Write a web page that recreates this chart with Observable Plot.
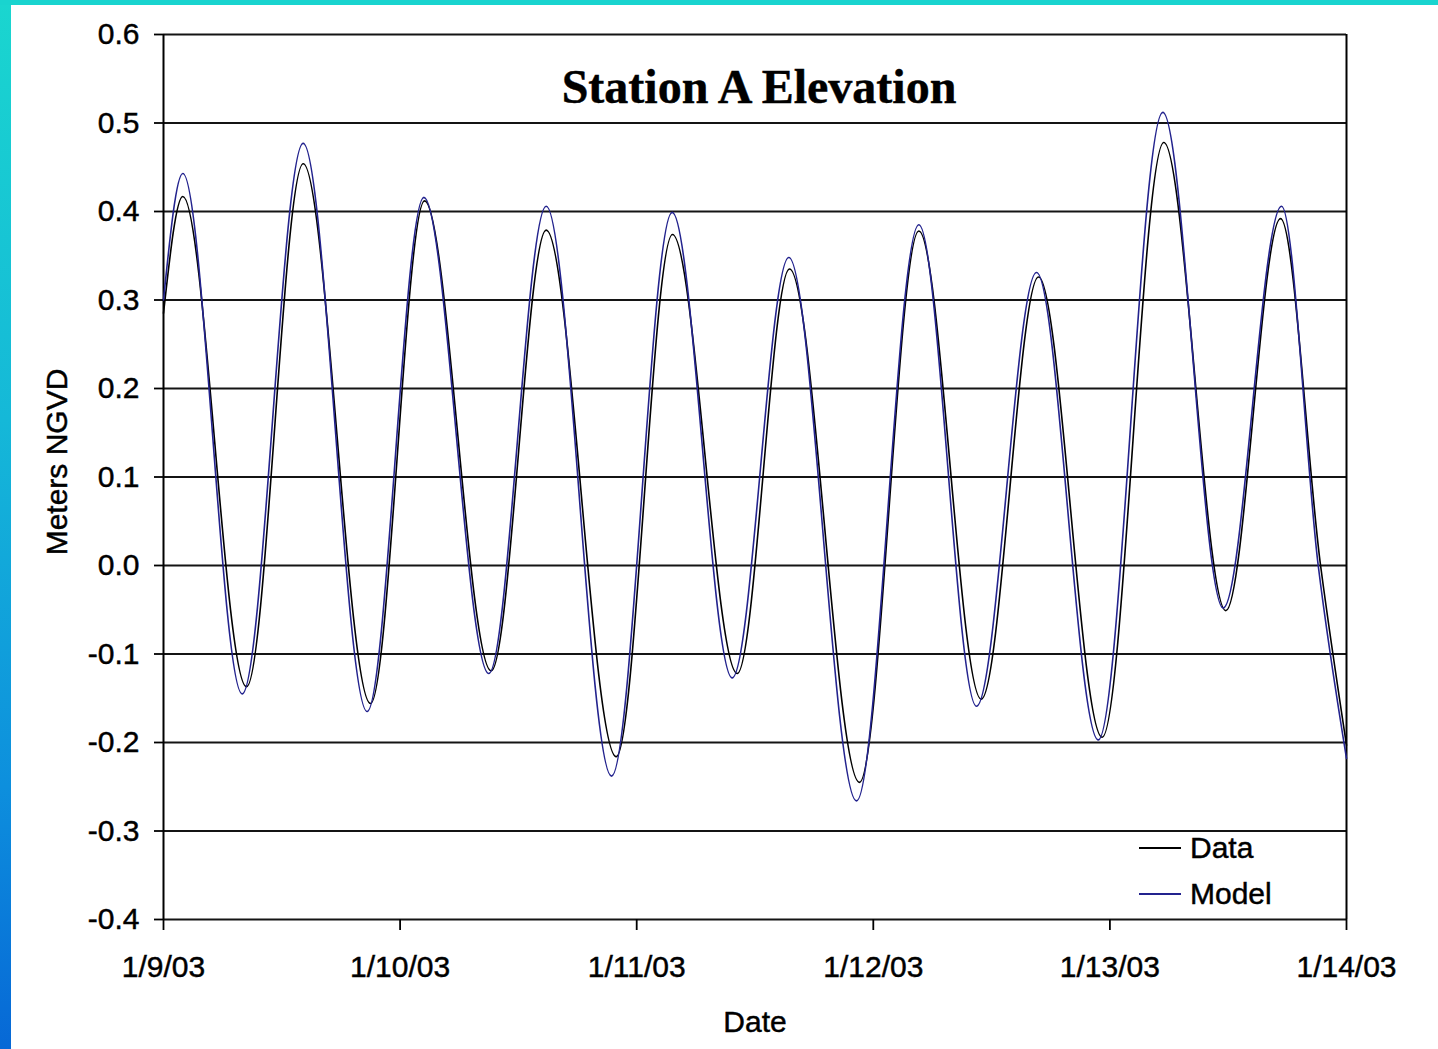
<!DOCTYPE html>
<html>
<head>
<meta charset="utf-8">
<script src="https://cdn.jsdelivr.net/npm/d3@7"></script>
<script src="https://cdn.jsdelivr.net/npm/@observablehq/plot@0.6"></script>
<style>
  html, body { margin: 0; padding: 0; width: 1438px; height: 1049px; overflow: hidden; background: #fff; }
  #page { position: relative; width: 1438px; height: 1049px; background: #fff; }
  #edge-left { position: absolute; left: 0; top: 0; width: 11px; height: 1049px;
    background: linear-gradient(#1ad6cf 0%, #15b8d8 40%, #0d8fdd 75%, #0768d6 100%); }
  #edge-top { position: absolute; left: 0; top: 0; width: 1438px; height: 5px; background: #19d4cf; }
  #chart { position: absolute; left: 0; top: 0; }
  #chart svg text { stroke: #000; stroke-width: 0.45px; }
  #legend { position: absolute; left: 1128px; top: 833px; width: 158px; height: 84px; background: #fff;
    font: 30px "Liberation Sans", Arial, sans-serif; color: #000; -webkit-text-stroke: 0.45px #000; }
  .entry { position: absolute; left: 11px; height: 34px; display: flex; align-items: center; }
  .swatch { width: 42px; height: 2px; margin-right: 9px; }
</style>
</head>
<body>
<div id="page">
  <div id="chart"></div>
  <div id="edge-left"></div>
  <div id="edge-top"></div>
  <div id="legend">
    <div class="entry" style="top:-2px"><span class="swatch" style="background:#000"></span><span>Data</span></div>
    <div class="entry" style="top:44px"><span class="swatch" style="background:#23238e"></span><span>Model</span></div>
  </div>
</div>
<script>
// Water level at Station A, 9–14 Jan 2003: turning points of each tide (hours after 1/9/03 00:00, metres NGVD)
const dataHours  = [0, 1.96, 8.42, 14.17, 21.0, 26.48, 33.24, 38.82, 45.92, 51.63, 58.2, 63.5, 70.6, 76.62, 82.95, 88.76, 95.22, 101.47, 107.76, 113.31, 117.37, 120];
const dataLevel  = [0.285, 0.417, -0.137, 0.454, -0.156, 0.412, -0.119, 0.379, -0.216, 0.374, -0.122, 0.335, -0.245, 0.378, -0.151, 0.326, -0.194, 0.478, -0.051, 0.392, 0.0, -0.203];

const modelHours = [0, 1.96, 7.98, 14.17, 20.66, 26.41, 33.0, 38.82, 45.45, 51.6, 57.69, 63.43, 70.3, 76.62, 82.47, 88.56, 94.82, 101.37, 107.5, 113.41, 117.13, 120];
const modelLevel = [0.300, 0.443, -0.145, 0.477, -0.165, 0.416, -0.122, 0.406, -0.238, 0.399, -0.127, 0.348, -0.266, 0.385, -0.159, 0.331, -0.197, 0.512, -0.048, 0.406, 0.0, -0.218];

const yTicks = [-0.4, -0.3, -0.2, -0.1, 0.0, 0.1, 0.2, 0.3, 0.4, 0.5, 0.6];
const xTickDates  = ["2003-01-09", "2003-01-10", "2003-01-11", "2003-01-12", "2003-01-13", "2003-01-14"];
const xTickLabels = ["1/9/03", "1/10/03", "1/11/03", "1/12/03", "1/13/03", "1/14/03"];

const title = "Station A Elevation";
const xTitle = "Date";
const yTitle = "Meters NGVD";

const start = Date.UTC(2003, 0, 9);
const toDate = h => new Date(start + h * 3600e3);
const series = (hours, level) => hours.map((h, i) => ({date: toDate(h), level: level[i]}));
const dataRows = series(dataHours, dataLevel);
const modelRows = series(modelHours, modelLevel);
const xTicks = xTickDates.map(s => new Date(s + "T00:00:00Z"));
const xDomain = [xTicks[0], xTicks[xTicks.length - 1]];

const W = 1438, H = 1049;
const sans = "Liberation Sans, Arial, sans-serif";

const chart = Plot.plot({
  width: W,
  height: H,
  marginLeft: 163,
  marginRight: W - 1346,
  marginTop: 34,
  marginBottom: H - 919,
  style: {fontFamily: sans, fontSize: "30px", color: "#000", background: "transparent", overflow: "visible"},
  x: {type: "utc", domain: xDomain},
  y: {domain: [-0.4, 0.6]},
  marks: [
    Plot.gridY(yTicks, {stroke: "#141414", strokeOpacity: 1, strokeWidth: 1.8}),
    Plot.ruleX(xDomain, {y1: -0.4, y2: 0.6, stroke: "#000", strokeWidth: 2}),
    Plot.axisY({ticks: yTicks, tickFormat: d => d.toFixed(1), tickSize: 9, tickPadding: 15,
      fontSize: 30, stroke: "#000", strokeWidth: 1.8, label: null}),
    Plot.axisX({ticks: xTicks, tickFormat: d => xTickLabels[xTicks.findIndex(t => +t === +d)],
      tickSize: 11, tickPadding: 25, fontSize: 30, stroke: "#000", strokeWidth: 1.8, label: null}),
    Plot.line(dataRows, {x: "date", y: "level", stroke: "#000", strokeWidth: 1.6, curve: "monotone-x"}),
    Plot.line(modelRows, {x: "date", y: "level", stroke: "#23238e", strokeWidth: 1.6, curve: "monotone-x"}),
    Plot.text([title], {frameAnchor: "top", dx: 4, dy: 53, lineAnchor: "middle",
      fontFamily: "Liberation Serif, Times New Roman, serif", fontWeight: "bold", fontSize: 48, fill: "#000"}),
    Plot.text([xTitle], {frameAnchor: "bottom", dy: 103, lineAnchor: "middle", fontSize: 30, fill: "#000"}),
    Plot.text([yTitle], {frameAnchor: "left", dx: -106, dy: -15, rotate: -90, textAnchor: "middle",
      lineAnchor: "middle", fontSize: 30, fill: "#000"})
  ]
});
document.getElementById("chart").append(chart);
</script>
</body>
</html>
